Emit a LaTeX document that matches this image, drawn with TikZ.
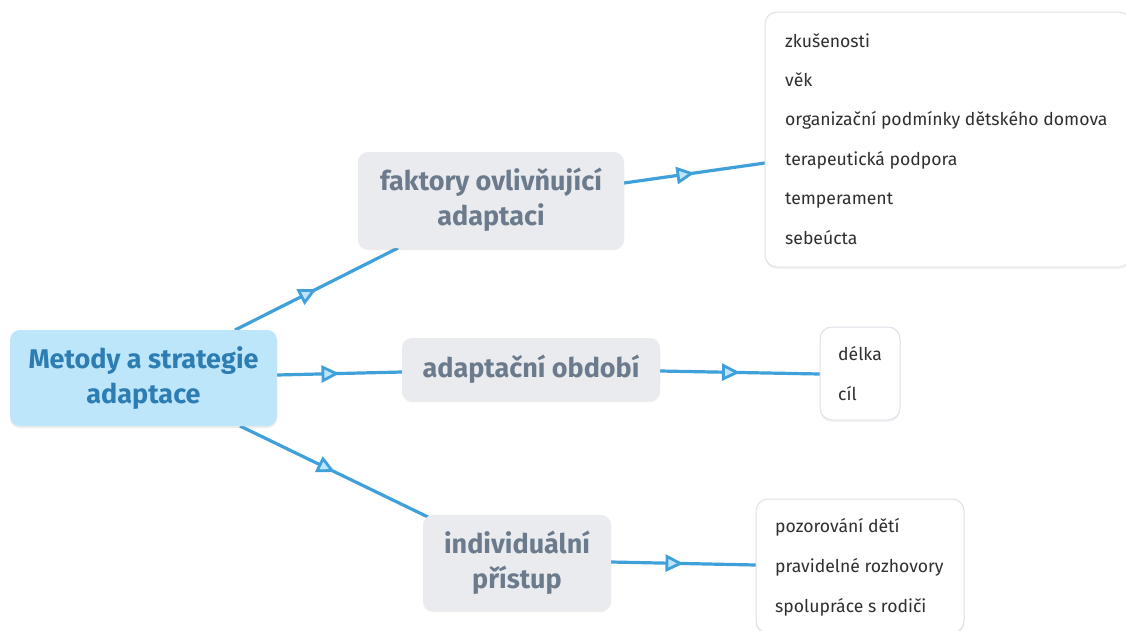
\documentclass[tikz,border=0pt]{standalone}
\usepackage{fontspec}
\setmainfont{Fira Sans}
\usetikzlibrary{arrows.meta,decorations.markings,shadows}
\definecolor{rootfill}{HTML}{BDE6FB}
\definecolor{roottext}{HTML}{2D7DB3}
\definecolor{topicfill}{HTML}{E9EBEE}
\definecolor{topictext}{HTML}{6C7B8C}
\definecolor{linecol}{HTML}{3FA0DA}
\definecolor{leafborder}{HTML}{DCE2E8}
\definecolor{leaftext}{HTML}{2E2E2E}
\tikzset{
  rootbox/.style={draw=none, fill=rootfill, rounded corners=10pt, text=roottext, align=center,
    font=\fontsize{27}{35}\selectfont\bfseries, inner sep=0pt,
    drop shadow={opacity=0.15, shadow xshift=0pt, shadow yshift=-2pt}},
  topicbox/.style={draw=none, fill=topicfill, rounded corners=10pt, text=topictext, align=center,
    font=\fontsize{27}{35}\selectfont\bfseries, inner sep=0pt,
    drop shadow={opacity=0.15, shadow xshift=0pt, shadow yshift=-2pt}},
  leafbox/.style={draw=leafborder, line width=1pt, fill=white, rounded corners=12pt, inner sep=0pt,
    drop shadow={opacity=0.08, shadow xshift=0pt, shadow yshift=-2pt}},
  leaftxt/.style={anchor=base west, text=leaftext, font=\fontsize{17.6}{20}\selectfont, inner sep=0pt},
  conn/.style={draw=linecol, line width=3.2pt,
    postaction={decorate, decoration={markings, mark=at position 0.5 with
      {\arrow{Triangle[length=18pt,width=17pt,fill=rootfill,line width=2.8pt]}}}}},
}
\begin{document}
\begin{tikzpicture}[x=1pt,y=-1pt]
\useasboundingbox (0,0) rectangle (1126,630);
\fill[white] (0,0) rectangle (1126,630);

% connector end points
\coordinate (r1) at (235,330);
\coordinate (f1) at (398,248);
\coordinate (r2) at (277,375);
\coordinate (o1) at (402,372);
\coordinate (r3) at (240,426);
\coordinate (i1) at (430,518);
\coordinate (f2) at (624,183);
\coordinate (g1) at (765,163);
\coordinate (o2) at (660,371);
\coordinate (g2) at (820,374);
\coordinate (i2) at (611,562);
\coordinate (g3) at (756,565);

% connectors
\path[conn] (r1) -- (f1);
\path[conn] (r2) -- (o1);
\path[conn] (r3) -- (i1);
\path[conn] (f2) -- (g1);
\path[conn] (o2) -- (g2);
\path[conn] (i2) -- (g3);

% main nodes
\node[rootbox, minimum width=267pt, minimum height=96pt] (root) at (143.5,378) {Metody a strategie\\adaptace};
\node[topicbox, minimum width=266pt, minimum height=96pt] (fak) at (491,200) {faktory ovlivňující\\adaptaci};
\node[topicbox, minimum width=258pt, minimum height=62pt] (obd) at (531,369) {adaptační období};
\node[topicbox, minimum width=188pt, minimum height=95pt] (ind) at (517,562.5) {individuální\\přístup};

% leaf boxes
\node[leafbox, minimum width=366pt, minimum height=255pt] (l1) at (948,139.5) {};
\node[leafbox, minimum width=80pt, minimum height=93pt] (l2) at (860,373.5) {};
\node[leafbox, minimum width=208pt, minimum height=134pt] (l3) at (860,566) {};

% leaf texts
\node[leaftxt] (l1a) at (785,47) {zkušenosti};
\node[leaftxt] (l1b) at (785,86) {věk};
\node[leaftxt] (l1c) at (785,125) {organizační podmínky dětského domova};
\node[leaftxt] (l1d) at (785,165) {terapeutická podpora};
\node[leaftxt] (l1e) at (785,204) {temperament};
\node[leaftxt] (l1f) at (785,244) {sebeúcta};

\node[leaftxt] (l2a) at (838,360) {délka};
\node[leaftxt] (l2b) at (838,400) {cíl};

\node[leaftxt] (l3a) at (775,532) {pozorování dětí};
\node[leaftxt] (l3b) at (775,572) {pravidelné rozhovory};
\node[leaftxt] (l3c) at (775,612) {spolupráce s rodiči};
\end{tikzpicture}
\end{document}
